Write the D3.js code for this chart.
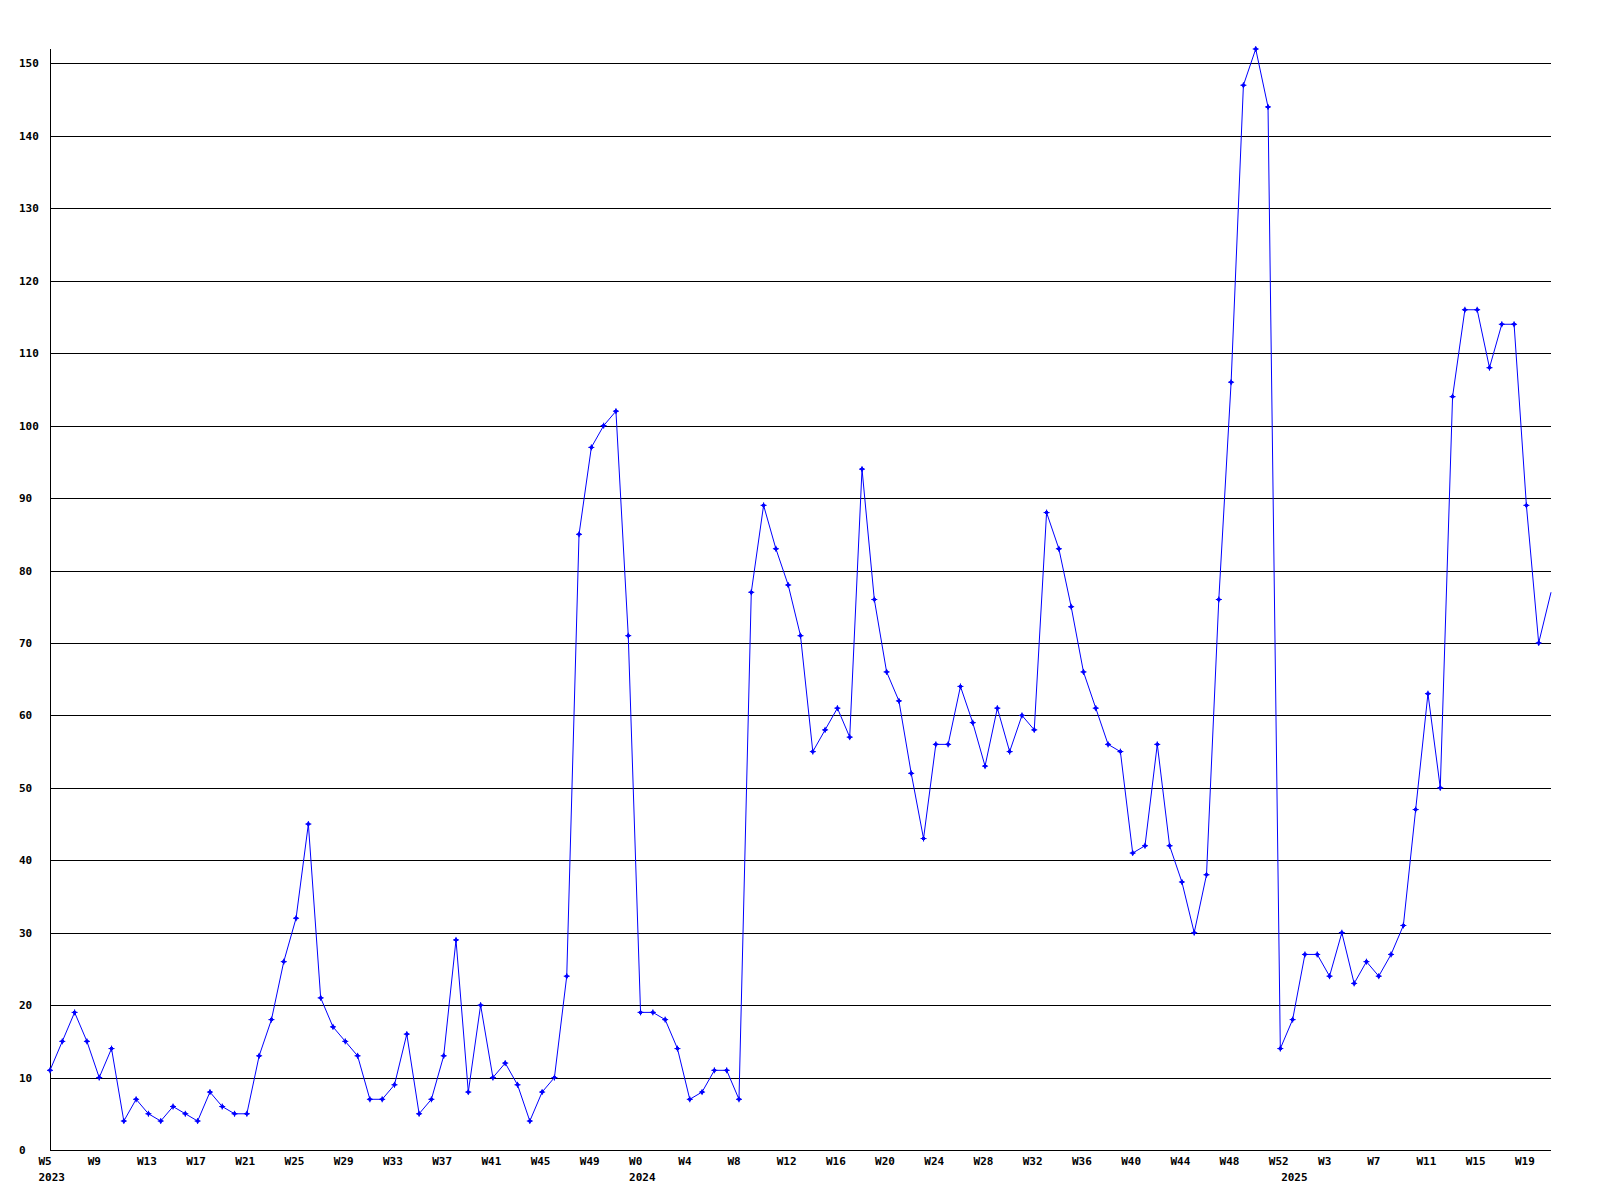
<!DOCTYPE html>
<html>
<head>
<meta charset="utf-8">
<script src="https://cdn.jsdelivr.net/npm/d3@7"></script>
<style>
  html, body { margin: 0; padding: 0; background: #fff; }
  svg text { font-family: "DejaVu Sans Mono", "Liberation Mono", monospace; font-weight: bold; font-size: 11px; fill: #000; }
</style>
</head>
<body>
<svg id="chart" width="1600" height="1200"></svg>
<script>
// Weekly values, 2023 W5 .. 2025 W21
const values = [
  11, 15, 19, 15, 10, 14, 4, 7, 5, 4, 6, 5, 4, 8, 6, 5, 5, 13, 18, 26,
  32, 45, 21, 17, 15, 13, 7, 7, 9, 16, 5, 7, 13, 29, 8, 20, 10, 12, 9, 4,
  8, 10, 24, 85, 97, 100, 102, 71, 19, 19, 18, 14, 7, 8, 11, 11, 7, 77, 89, 83,
  78, 71, 55, 58, 61, 57, 94, 76, 66, 62, 52, 43, 56, 56, 64, 59, 53, 61, 55, 60,
  58, 88, 83, 75, 66, 61, 56, 55, 41, 42, 56, 42, 37, 30, 38, 76, 106, 147, 152, 144,
  14, 18, 27, 27, 24, 30, 23, 26, 24, 27, 31, 47, 63, 50, 104, 116, 116, 108, 114, 114,
  89, 70, 77
];
// x-axis tick labels (every 4th week, starting at the first point)
const tickLabels = ["W5","W9","W13","W17","W21","W25","W29","W33","W37","W41","W45","W49",
  "W0","W4","W8","W12","W16","W20","W24","W28","W32","W36","W40","W44","W48","W52",
  "W3","W7","W11","W15","W19"];
const tickStep = 4;
// year labels: point index (first week of the year) and label
const yearIdx = [0, 48, 101];
const yearLabels = ["2023", "2024", "2025"];
const yTicks = [0, 10, 20, 30, 40, 50, 60, 70, 80, 90, 100, 110, 120, 130, 140, 150];
const yMax = 152;

(function () {
const svg = d3.select("#chart");
const mLeft = 50, mRight = 1551, mTop = 49, mBottom = 1150;

const x = d3.scaleLinear().domain([0, values.length - 1]).range([mLeft, mRight]);
const y = d3.scaleLinear().domain([0, yMax]).range([mBottom, mTop]);

// gridlines
svg.append("g").selectAll("line").data(yTicks.filter(d => d > 0)).join("line")
  .attr("x1", mLeft).attr("x2", mRight)
  .attr("y1", d => Math.round(y(d)) + 0.5).attr("y2", d => Math.round(y(d)) + 0.5)
  .attr("stroke", "#000").attr("stroke-width", 1).attr("shape-rendering", "crispEdges");

// y labels
svg.append("g").selectAll("text").data(yTicks).join("text")
  .attr("x", 19).attr("y", d => Math.round(y(d)) + 4)
  .text(d => d);

// axes lines
svg.append("line").attr("x1", mLeft + 0.5).attr("x2", mLeft + 0.5).attr("y1", mTop).attr("y2", mBottom + 0.5)
  .attr("stroke", "#000").attr("shape-rendering", "crispEdges");
svg.append("line").attr("x1", mLeft).attr("x2", mRight).attr("y1", mBottom + 0.5).attr("y2", mBottom + 0.5)
  .attr("stroke", "#000").attr("shape-rendering", "crispEdges");

// x labels
svg.append("g").selectAll("text").data(tickLabels).join("text")
  .attr("x", (d, i) => x(i * tickStep) - 11.5).attr("y", 1165)
  .text(d => d);
svg.append("g").selectAll("text").data(yearLabels).join("text")
  .attr("x", (d, i) => x(yearIdx[i]) - 11.5).attr("y", 1181)
  .text(d => d);

// line
const line = d3.line().x((d, i) => x(i)).y(d => y(d));
svg.append("path").datum(values).attr("d", line)
  .attr("fill", "none").attr("stroke", "#0000ff").attr("stroke-width", 1);

// markers (the point on the right edge is drawn without one)
const marker = "M-3,0L3,0M0,-3L0,3M-2,0L0,-2L2,0L0,2Z";
svg.append("g").selectAll("path").data(values.slice(0, -1)).join("path")
  .attr("transform", (d, i) => `translate(${x(i)},${y(d)})`)
  .attr("d", marker)
  .attr("fill", "#0000ff").attr("stroke", "#0000ff").attr("stroke-width", 1);
})();
</script>
</body>
</html>
